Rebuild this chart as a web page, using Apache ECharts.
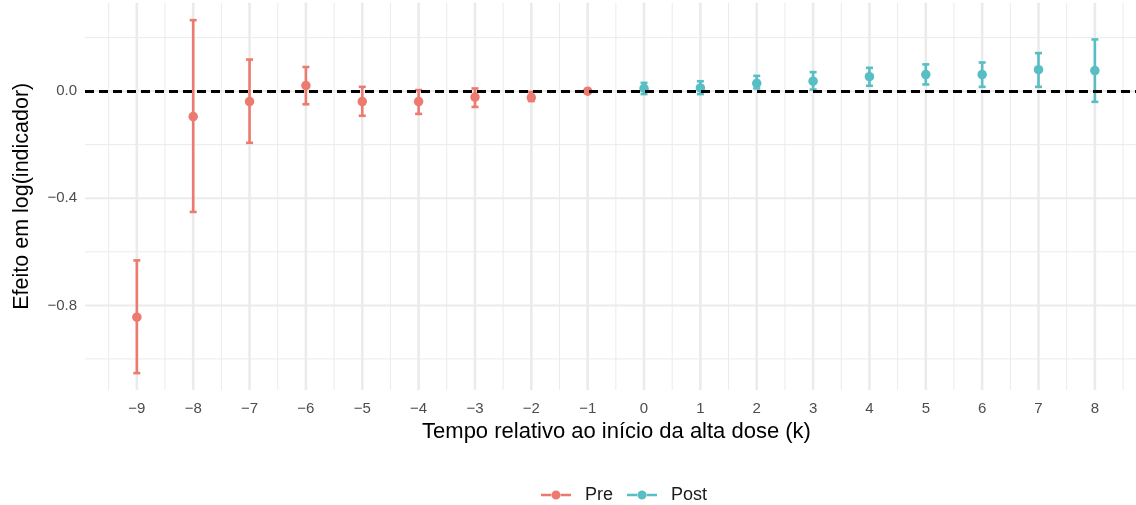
<!DOCTYPE html>
<html>
<head>
<meta charset="utf-8">
<script src="https://cdn.jsdelivr.net/npm/echarts@6/dist/echarts.min.js"></script>
<style>
html,body{margin:0;padding:0;background:#fff;}
#c{width:1136px;height:505px;}
</style>
</head>
<body>
<div id="c"></div>
<script>
// ---- data ----
const preK    = [-9, -8, -7, -6, -5, -4, -3, -2, -1];
const preEst  = [-0.844, -0.095, -0.039, 0.021, -0.039, -0.039, -0.022, -0.024, 0.000];
const preLo   = [-1.053, -0.451, -0.193, -0.049, -0.092, -0.085, -0.059, -0.037, 0.000];
const preHi   = [-0.632, 0.265, 0.118, 0.090, 0.016, 0.004, 0.010, -0.003, 0.000];

const postK   = [0, 1, 2, 3, 4, 5, 6, 7, 8];
const postEst = [0.010, 0.012, 0.029, 0.037, 0.054, 0.062, 0.062, 0.080, 0.077];
const postLo  = [-0.011, -0.011, 0.010, 0.006, 0.020, 0.025, 0.016, 0.016, -0.040];
const postHi  = [0.031, 0.037, 0.057, 0.071, 0.087, 0.100, 0.107, 0.142, 0.193];

const xTicks  = [-9, -8, -7, -6, -5, -4, -3, -2, -1, 0, 1, 2, 3, 4, 5, 6, 7, 8];
const xMinor  = [-9.5, -8.5, -7.5, -6.5, -5.5, -4.5, -3.5, -2.5, -1.5, -0.5, 0.5, 1.5, 2.5, 3.5, 4.5, 5.5, 6.5, 7.5, 8.5];
const yTicks  = [-0.8, -0.4, 0.0];
const yMinor  = [-1.0, -0.6, -0.2, 0.2];

const PRE = '#EC7A6F', POST = '#57BEC4', GRID = '#EBEBEB';
const FONT = 'Liberation Sans, Arial, sans-serif';

const chart = echarts.init(document.getElementById('c'));

function gridSeries(vals, vertical, width) {
  return {
    type: 'custom', silent: true, z: 0, legendHoverLink: false,
    data: vals.map(v => [v]),
    clip: true,
    renderItem: function (params, api) {
      const cs = params.coordSys;
      const v = api.value(0);
      let shape;
      if (vertical) {
        const x = api.coord([v, 0])[0];
        shape = {x1: x, y1: cs.y, x2: x, y2: cs.y + cs.height};
      } else {
        const y = api.coord([0, v])[1];
        shape = {x1: cs.x, y1: y, x2: cs.x + cs.width, y2: y};
      }
      return {type: 'line', shape: shape, style: {stroke: GRID, lineWidth: width}, silent: true};
    }
  };
}

function errSeries(name, k, lo, hi, color) {
  return {
    name: name, type: 'custom', z: 3,
    data: k.map((v, i) => [v, lo[i], hi[i]]),
    renderItem: function (params, api) {
      const x = api.value(0);
      const pl = api.coord([x, api.value(1)]);
      const ph = api.coord([x, api.value(2)]);
      const w = 3.5;
      const st = {stroke: color, lineWidth: 2.6};
      return {
        type: 'group',
        children: [
          {type: 'line', shape: {x1: pl[0], y1: pl[1], x2: ph[0], y2: ph[1]}, style: st},
          {type: 'line', shape: {x1: pl[0] - w, y1: pl[1], x2: pl[0] + w, y2: pl[1]}, style: st},
          {type: 'line', shape: {x1: ph[0] - w, y1: ph[1], x2: ph[0] + w, y2: ph[1]}, style: st}
        ]
      };
    }
  };
}

const legendIcon = 'path://M0,3.7 L11,3.7 L11,6.3 L0,6.3 Z M19,3.7 L30,3.7 L30,6.3 L19,6.3 Z M10.5,5 A4.5,4.5 0 1,0 19.5,5 A4.5,4.5 0 1,0 10.5,5 Z';

const option = {
  animation: false,
  backgroundColor: '#fff',
  textStyle: {fontFamily: FONT},
  grid: {left: 85, right: 0, top: 2.5, bottom: 115, containLabel: false},
  xAxis: {
    type: 'value', min: -9.92, max: 8.73,
    name: 'Tempo relativo ao início da alta dose (k)',
    nameLocation: 'middle', nameGap: 30,
    nameTextStyle: {color: '#000', fontSize: 22, fontFamily: FONT, padding: [0, 0, 0, 12]},
    axisLine: {show: false}, axisTick: {show: false}, splitLine: {show: false},
    axisLabel: {
      customValues: xTicks, color: '#4D4D4D', fontSize: 15, margin: 11,
      formatter: v => (v < 0 ? '\u2212' + Math.abs(v) : String(v))
    }
  },
  yAxis: {
    type: 'value', min: -1.116, max: 0.331,
    name: 'Efeito em log(indicador)',
    nameLocation: 'middle', nameGap: 52,
    nameTextStyle: {color: '#000', fontSize: 21.5, fontFamily: FONT},
    axisLine: {show: false}, axisTick: {show: false}, splitLine: {show: false},
    axisLabel: {
      customValues: yTicks, color: '#4D4D4D', fontSize: 15, margin: 8,
      formatter: v => (v < 0 ? '\u2212' : '') + Math.abs(v).toFixed(1)
    }
  },
  legend: {
    top: 486, left: 541, padding: 0,
    itemWidth: 30, itemHeight: 10, itemGap: 14,
    textStyle: {color: '#1a1a1a', fontSize: 18, padding: [0, 0, 0, 9]},
    data: [
      {name: 'Pre', icon: legendIcon, itemStyle: {color: PRE}},
      {name: 'Post', icon: legendIcon, itemStyle: {color: POST}}
    ],
    selectedMode: false
  },
  series: [
    gridSeries(yMinor, false, 1),
    gridSeries(yTicks, false, 2),
    gridSeries(xMinor, true, 1),
    gridSeries(xTicks, true, 2.6),
    errSeries('Pre', preK, preLo, preHi, PRE),
    errSeries('Post', postK, postLo, postHi, POST),
    {name: 'Pre', type: 'scatter', z: 4, symbolSize: 9.5, itemStyle: {color: PRE, opacity: 1},
     data: preK.map((v, i) => [v, preEst[i]])},
    {name: 'Post', type: 'scatter', z: 4, symbolSize: 9.5, itemStyle: {color: POST, opacity: 1},
     data: postK.map((v, i) => [v, postEst[i]]),
     markLine: {
       silent: true, symbol: 'none', z: 10, animation: false,
       label: {show: false},
       lineStyle: {color: '#000', width: 3, type: [9, 5], opacity: 1},
       data: [{yAxis: 0}]
     }}
  ]
};
chart.setOption(option);
</script>
</body>
</html>
